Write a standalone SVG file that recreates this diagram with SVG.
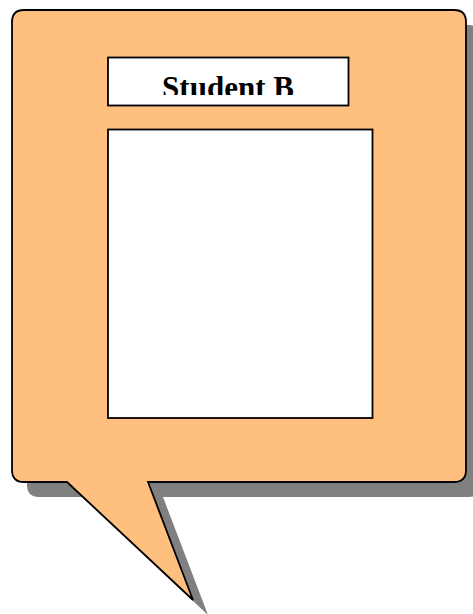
<svg xmlns="http://www.w3.org/2000/svg" width="473" height="614" viewBox="0 0 473 614">
  <style>
    .bubble { fill: #FFBF7F; stroke: #000; stroke-width: 1.8; stroke-linejoin: miter; }
    .shadow { fill: #808080; stroke: none; }
    .box { fill: #fff; stroke: #000; stroke-width: 1.8; }
    .title { font-family: "Liberation Serif", "Times New Roman", serif; font-weight: bold; font-size: 31px; fill: #000; }
  </style>
  <defs>
    <path id="bubblePath" d="M 24,10 H 454 Q 466,10 466,22 V 470 Q 466,482 454,482 H 148 L 193,600 L 67,482 H 24 Q 12,482 12,470 V 22 Q 12,10 24,10 Z"/>
    <clipPath id="titleClip">
      <rect x="108" y="58" width="240" height="37"/>
    </clipPath>
  </defs>
  <g id="callout">
    <use href="#bubblePath" class="shadow" transform="translate(15,15)"/>
    <use href="#bubblePath" class="bubble"/>
  </g>
  <g id="title-node">
    <rect class="box" x="108" y="57.5" width="240.5" height="48"/>
    <text class="title" x="228" y="97.5" text-anchor="middle" clip-path="url(#titleClip)">Student B</text>
  </g>
  <g id="content-node">
    <rect class="box" x="108" y="129.5" width="264.5" height="288.5"/>
  </g>
  <g id="connectors"/>
</svg>
